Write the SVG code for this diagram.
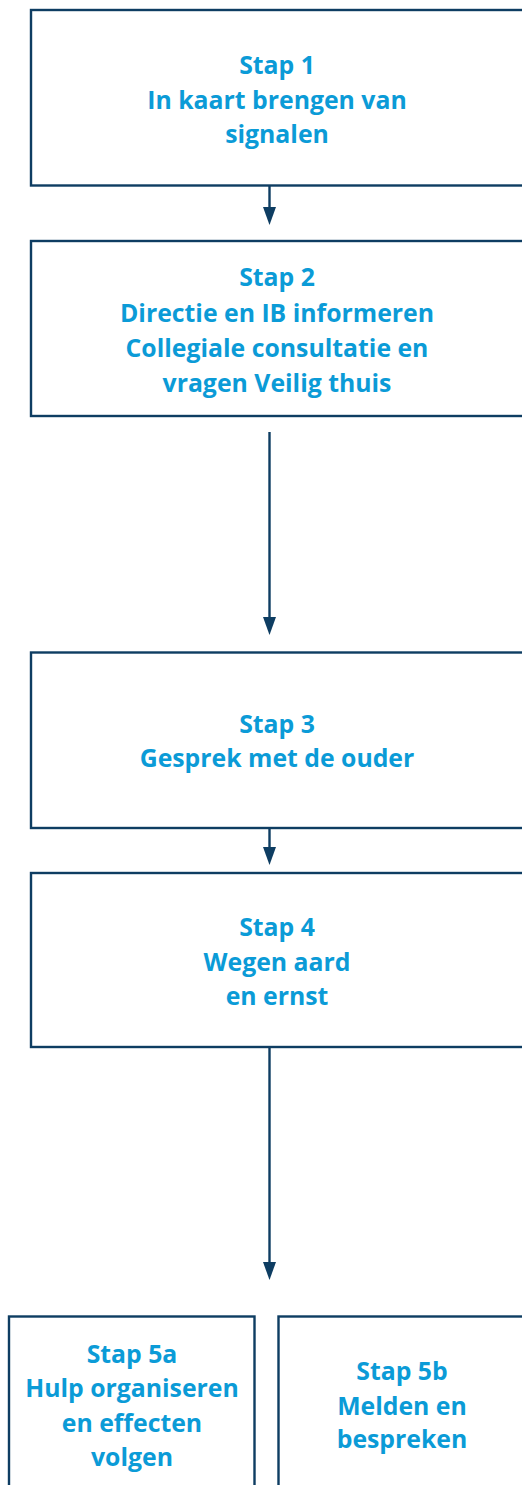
<svg xmlns="http://www.w3.org/2000/svg" width="522" height="1485" viewBox="0 0 522 1485">
<defs>
<style>
.box{fill:#fff;stroke:#0e3d62;stroke-width:2.4}
.t{font-family:"Open Sans","Noto Sans",sans-serif;font-weight:700;font-size:24.8px;fill:#0b9bd7;text-anchor:middle}
.c{stroke:#0e3d62;stroke-width:2.4;fill:none}
.h{fill:#0e3d62}
</style>
</defs>
<rect width="522" height="1485" fill="#fff"/>
<g id="connectors">
<line class="c" x1="269.5" y1="186" x2="269.5" y2="207"/>
<path class="h" d="M263,207 L276,207 L269.5,225 Z"/>
<line class="c" x1="269.5" y1="432" x2="269.5" y2="617"/>
<path class="h" d="M263,617 L276,617 L269.5,635 Z"/>
<line class="c" x1="269.5" y1="828" x2="269.5" y2="847"/>
<path class="h" d="M263,847 L276,847 L269.5,865 Z"/>
<line class="c" x1="269.5" y1="1047" x2="269.5" y2="1262"/>
<path class="h" d="M263,1262 L276,1262 L269.5,1280 Z"/>
</g>
<g id="stap1">
<rect class="box" x="31" y="10" width="494" height="175.5"/>
<text class="t" x="277" y="74">Stap 1</text>
<text class="t" x="277" y="109">In kaart brengen van</text>
<text class="t" x="277" y="143">signalen</text>
</g>
<g id="stap2">
<rect class="box" x="31" y="241" width="494" height="175"/>
<text class="t" x="277" y="286">Stap 2</text>
<text class="t" x="277" y="322">Directie en IB informeren</text>
<text class="t" x="277" y="357">Collegiale consultatie en</text>
<text class="t" x="277" y="392">vragen Veilig thuis</text>
</g>
<g id="stap3">
<rect class="box" x="31" y="652.5" width="494" height="175.5"/>
<text class="t" x="277" y="733">Stap 3</text>
<text class="t" x="277" y="767">Gesprek met de ouder</text>
</g>
<g id="stap4">
<rect class="box" x="31" y="873" width="494" height="174"/>
<text class="t" x="277" y="936">Stap 4</text>
<text class="t" x="277" y="971">Wegen aard</text>
<text class="t" x="277" y="1005">en ernst</text>
</g>
<g id="stap5a">
<rect class="box" x="9" y="1316.5" width="245.5" height="180"/>
<text class="t" x="132" y="1363">Stap 5a</text>
<text class="t" x="132" y="1397">Hulp organiseren</text>
<text class="t" x="132" y="1432">en effecten</text>
<text class="t" x="132" y="1466">volgen</text>
</g>
<g id="stap5b">
<rect class="box" x="278.5" y="1316.5" width="250" height="180"/>
<text class="t" x="402" y="1380">Stap 5b</text>
<text class="t" x="402" y="1415">Melden en</text>
<text class="t" x="402" y="1448">bespreken</text>
</g>
</svg>
